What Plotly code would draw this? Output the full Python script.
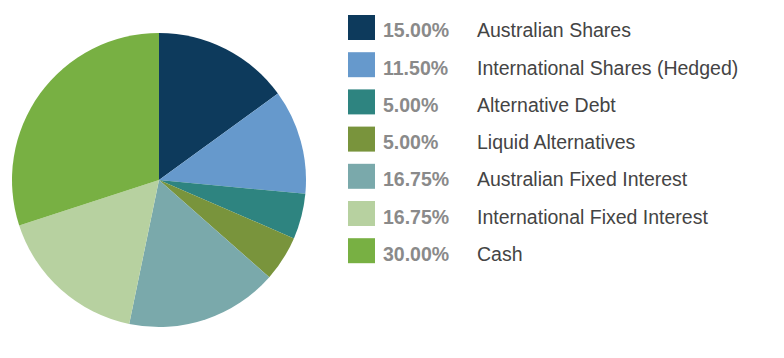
import plotly.graph_objects as go

categories = ["Australian Shares", "International Shares (Hedged)", "Alternative Debt",
              "Liquid Alternatives", "Australian Fixed Interest",
              "International Fixed Interest", "Cash"]
values = [15.00, 11.50, 5.00, 5.00, 16.75, 16.75, 30.00]
colors = ["#0d3a5c", "#6699cc", "#2e8480", "#79943c", "#7aa9ab", "#b7d1a0", "#78b043"]

W, H = 784, 358
cx, cy, r = 159, 180, 147

fig = go.Figure(go.Pie(
    labels=categories, values=values, sort=False, direction="clockwise", rotation=0,
    marker=dict(colors=colors, line=dict(width=0)),
    textinfo="none", hoverinfo="label+percent", showlegend=False,
    domain=dict(x=[(cx - r) / W, (cx + r) / W], y=[(H - cy - r) / H, (H - cy + r) / H]),
))

FONT = "Liberation Sans, Arial"
shapes, annotations = [], []
for i, (cat, val, col) in enumerate(zip(categories, values, colors)):
    top = 15 + 37.2 * i
    bot = top + 25
    shapes.append(dict(type="rect", xref="paper", yref="paper",
                       x0=348 / W, x1=375 / W, y0=1 - bot / H, y1=1 - top / H,
                       fillcolor=col, line=dict(width=0)))
    yc = 1 - (top + 12.5 + 3) / H
    annotations.append(dict(x=381 / W, y=yc, xref="paper", yref="paper",
                            xanchor="left", yanchor="middle", showarrow=False,
                            text="<b>%.2f%%</b>" % val,
                            font=dict(family=FONT, size=19.5, color="#8a8a8a")))
    annotations.append(dict(x=475 / W, y=yc, xref="paper", yref="paper",
                            xanchor="left", yanchor="middle", showarrow=False,
                            text=cat,
                            font=dict(family=FONT, size=19.5, color="#444444")))

fig.update_layout(width=W, height=H, margin=dict(l=0, r=0, t=0, b=0),
                  paper_bgcolor="white", plot_bgcolor="white",
                  shapes=shapes, annotations=annotations)
fig.write_html("out.html")
